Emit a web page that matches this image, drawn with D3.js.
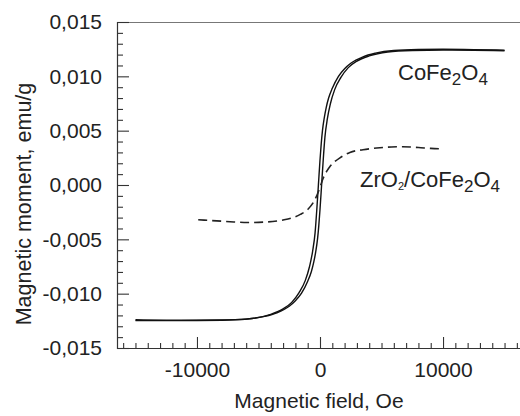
<!DOCTYPE html>
<html>
<head>
<meta charset="utf-8">
<script src="https://cdn.jsdelivr.net/npm/d3@7"></script>
<style>
  html, body { margin: 0; padding: 0; background: #fff; }
  svg { display: block; }
  text { font-family: "Liberation Sans", Arial, Helvetica, sans-serif; fill: #222; }
</style>
</head>
<body>
<svg id="chart" width="520" height="416"></svg>
<script>
// ---- Data ----
// CoFe2O4 hysteresis loop: descending branch (upper) field values and moments
const descField = [15000, 12500, 10000, 8000, 6000, 4500, 3500, 2500, 2000, 1500, 1000, 700, 500, 350, 200, 100, 0, -130, -250, -400, -600, -850, -1200, -1700, -2300, -3000, -4000, -5500, -7500, -10000, -12500, -15000];
const descMoment = [0.01240, 0.01246, 0.01249, 0.01247, 0.01238, 0.01213, 0.01180, 0.01120, 0.01070, 0.01000, 0.00890, 0.00800, 0.00710, 0.00620, 0.00500, 0.00380, 0.00230, 0.0, -0.00210, -0.00440, -0.00610, -0.00750, -0.00880, -0.00990, -0.01080, -0.01140, -0.01190, -0.01228, -0.01243, -0.01247, -0.01248, -0.01248];
// ascending branch (lower)
const ascField = [-15000, -12500, -10000, -8000, -6000, -4500, -3500, -2500, -2000, -1500, -1000, -700, -500, -350, -200, -100, 0, 130, 250, 400, 600, 850, 1200, 1700, 2300, 3000, 4000, 5500, 7500, 10000, 12500, 15000];
const ascMoment = [-0.01240, -0.01244, -0.01245, -0.01243, -0.01234, -0.01209, -0.01176, -0.01116, -0.01066, -0.00996, -0.00886, -0.00796, -0.00706, -0.00616, -0.00496, -0.00376, -0.00226, 0.0, 0.00210, 0.00440, 0.00610, 0.00750, 0.00880, 0.00990, 0.01080, 0.01140, 0.01188, 0.01224, 0.01238, 0.01242, 0.01240, 0.01236];
// ZrO2/CoFe2O4 curve
const zrField = [-9900, -8400, -7000, -5900, -4300, -3000, -2200, -1600, -1000, -540, -250, 0, 250, 540, 810, 1200, 1620, 2430, 3500, 4600, 5800, 6700, 8000, 9000, 10000];
const zrMoment = [-0.00320, -0.00330, -0.00340, -0.00345, -0.00340, -0.00322, -0.00300, -0.00270, -0.00225, -0.00160, -0.00095, -0.00020, 0.00060, 0.00125, 0.00170, 0.00215, 0.00250, 0.00300, 0.00325, 0.00340, 0.00350, 0.00352, 0.00345, 0.00337, 0.00332];

// Axis ticks and labels
const xMajorTicks = [-10000, 0, 10000];
const xMajorLabels = ["-10000", "0", "10000"];
const yMajorTicks = [-0.015, -0.010, -0.005, 0.0, 0.005, 0.010, 0.015];
const yMajorLabels = ["-0,015", "-0,010", "-0,005", "0,000", "0,005", "0,010", "0,015"];
const xTitle = "Magnetic field, Oe";
const yTitle = "Magnetic moment, emu/g";

// ---- Drawing ----
const svg = d3.select("#chart");
const mLeft = 117, mTop = 22, mBottom = 348, mRight = 523;

const x = d3.scaleLinear().domain([-16500, 16500]).range([mLeft, mRight]);
const y = d3.scaleLinear().domain([-0.015, 0.015]).range([mBottom, mTop]);

const xMinor = d3.range(-16000, 16001, 1000).filter(v => !xMajorTicks.includes(v));
const yMinor = d3.range(-15, 16, 1).map(v => v / 1000).filter(v => !yMajorTicks.some(t => Math.abs(t - v) < 1e-9));

// Top frame line
svg.append("line").attr("x1", mLeft).attr("x2", 520).attr("y1", mTop + 0.5).attr("y2", mTop + 0.5)
  .attr("stroke", "#777").attr("stroke-width", 1.2);

// X axis (ticks pointing inward/up)
const gx = svg.append("g").attr("transform", `translate(0,${mBottom})`);
gx.call(d3.axisBottom(x).tickValues(xMinor).tickSize(-5).tickFormat(""));
gx.select(".domain").remove();
const gx2 = svg.append("g").attr("transform", `translate(0,${mBottom})`);
gx2.call(d3.axisBottom(x).tickValues(xMajorTicks).tickSize(-11).tickFormat((d, i) => xMajorLabels[i]).tickPadding(14));
gx2.select(".domain").remove();
gx2.selectAll("text").attr("font-size", 21).attr("fill", "#222")
  .style("font-family", '"Liberation Sans", Arial, sans-serif');
svg.append("line").attr("x1", mLeft).attr("x2", 520).attr("y1", mBottom + 0.5).attr("y2", mBottom + 0.5)
  .attr("stroke", "#333").attr("stroke-width", 1.2);

// Y axis (ticks pointing inward/right)
const gy = svg.append("g").attr("transform", `translate(${mLeft},0)`);
gy.call(d3.axisLeft(y).tickValues(yMinor).tickSize(-6).tickFormat(""));
gy.select(".domain").remove();
const gy2 = svg.append("g").attr("transform", `translate(${mLeft},0)`);
gy2.call(d3.axisLeft(y).tickValues(yMajorTicks).tickSize(-12).tickFormat((d, i) => yMajorLabels[i]).tickPadding(15));
gy2.select(".domain").remove();
gy2.selectAll("text").attr("font-size", 21).attr("fill", "#222")
  .style("font-family", '"Liberation Sans", Arial, sans-serif');
svg.append("line").attr("x1", mLeft + 0.5).attr("x2", mLeft + 0.5).attr("y1", mTop).attr("y2", mBottom + 1)
  .attr("stroke", "#333").attr("stroke-width", 1.2);

svg.selectAll(".tick line").attr("stroke", "#333").attr("stroke-width", 1.1);

// Titles
svg.append("text").attr("x", 319).attr("y", 408).attr("text-anchor", "middle")
  .attr("font-size", 21).text(xTitle);
svg.append("text").attr("transform", "translate(31,204) rotate(-90)").attr("text-anchor", "middle")
  .attr("font-size", 21.5).text(yTitle);

// Curves
const line = d3.line().x(d => x(d[0])).y(d => y(d[1])).curve(d3.curveMonotoneX);
const sortPts = (fs, ms) => fs.map((f, i) => [f, ms[i]]).sort((a, b) => a[0] - b[0]);

svg.append("path").datum(sortPts(descField, descMoment)).attr("d", line)
  .attr("fill", "none").attr("stroke", "#111").attr("stroke-width", 1.4);
svg.append("path").datum(sortPts(ascField, ascMoment)).attr("d", line)
  .attr("fill", "none").attr("stroke", "#111").attr("stroke-width", 1.4);
svg.append("path").datum(sortPts(zrField, zrMoment)).attr("d", line)
  .attr("fill", "none").attr("stroke", "#222").attr("stroke-width", 1.6)
  .attr("stroke-dasharray", "9,5");

// Curve labels
const lab1 = svg.append("text").attr("x", 398).attr("y", 80).attr("font-size", 22);
lab1.append("tspan").text("CoFe");
lab1.append("tspan").attr("dy", 5).attr("font-size", 17).text("2");
lab1.append("tspan").attr("dy", -5).text("O");
lab1.append("tspan").attr("dy", 5).attr("font-size", 17).text("4");

const lab2 = svg.append("text").attr("x", 360).attr("y", 187).attr("font-size", 22);
lab2.append("tspan").text("ZrO");
lab2.append("tspan").attr("dy", 3).attr("font-size", 11).text("2");
lab2.append("tspan").attr("dy", -3).text("/CoFe");
lab2.append("tspan").attr("dy", 5).attr("font-size", 17).text("2");
lab2.append("tspan").attr("dy", -5).text("O");
lab2.append("tspan").attr("dy", 5).attr("font-size", 17).text("4");
</script>
</body>
</html>
